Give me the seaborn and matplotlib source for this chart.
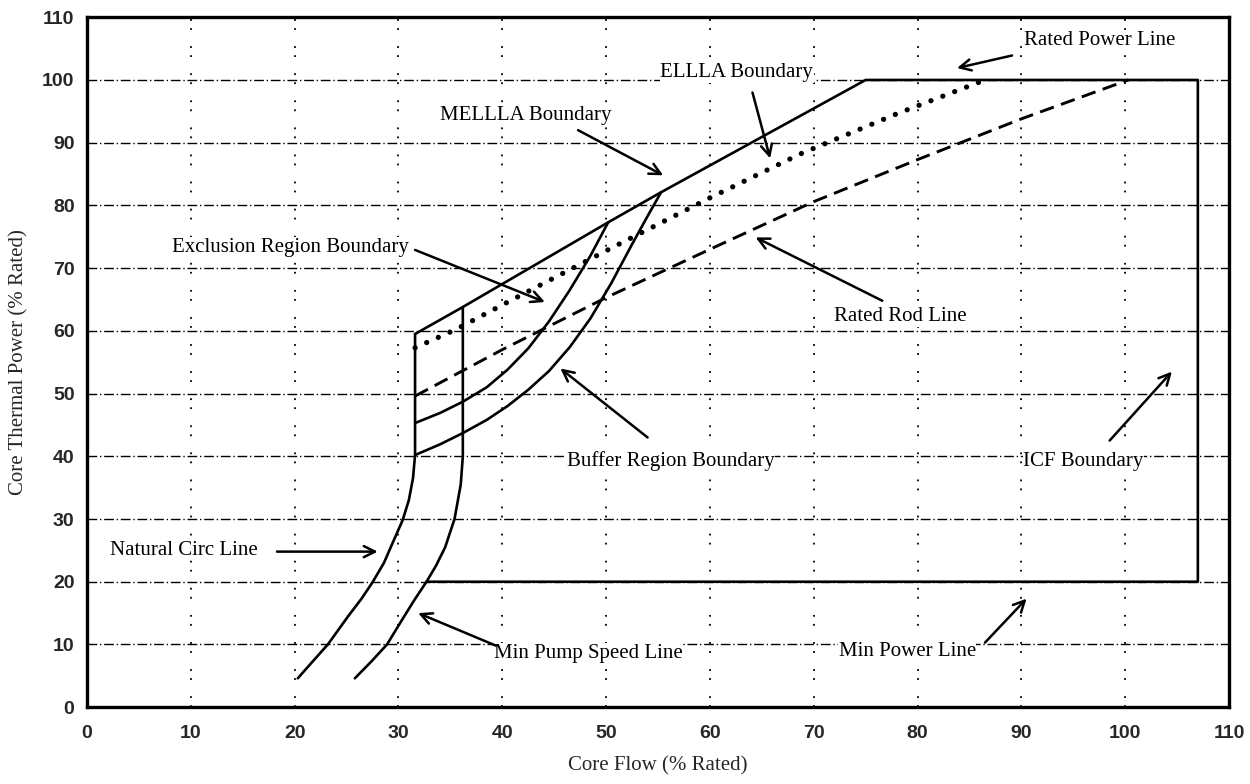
import matplotlib
matplotlib.use('Agg')
import matplotlib.pyplot as plt
import seaborn as sns

# boundary: MELLLA -> rated power line -> ICF -> min power line
boundary_x = [31.6, 36.2, 50.2, 55.3, 75.0, 107.0, 107.0, 32.7]
boundary_y = [59.5, 63.8, 77.3, 82.1, 100.0, 100.0, 20.0, 20.0]

natcirc_x = [31.6, 31.6, 31.4, 31.0, 30.4, 29.6, 28.6, 27.5, 26.4, 25.2, 24.2, 23.2, 21.8, 20.3]
natcirc_y = [59.5, 40.2, 36.5, 33.0, 29.8, 26.8, 23.0, 19.9, 17.2, 14.6, 12.3, 10.0, 7.4, 4.6]

minpump_x = [36.2, 36.2, 36.0, 35.4, 34.5, 33.6, 32.7, 31.5, 30.3, 28.9, 27.4, 25.8]
minpump_y = [63.8, 40.0, 35.5, 30.0, 25.5, 22.5, 20.0, 17.0, 13.8, 10.0, 7.3, 4.6]

ellla_x = [31.6, 35.5, 41.0, 50.5, 60.0, 68.7, 78.0, 86.5]
ellla_y = [57.3, 60.2, 65.0, 73.2, 81.2, 88.2, 94.6, 100.0]

rodline_x = [31.6, 40.0, 50.0, 60.0, 70.0, 80.0, 90.0, 100.3]
rodline_y = [49.6, 57.0, 65.3, 73.0, 80.6, 87.3, 93.8, 100.0]

exclusion_x = [31.6, 34.0, 36.2, 38.5, 40.5, 42.5, 44.5, 46.5, 48.5, 50.2]
exclusion_y = [45.3, 46.9, 48.7, 51.0, 53.8, 57.2, 61.5, 66.5, 72.0, 77.3]

buffer_x = [31.6, 34.0, 36.2, 38.5, 40.5, 42.5, 44.5, 46.5, 48.5, 50.5, 52.5, 54.0, 55.3]
buffer_y = [40.2, 41.9, 43.7, 45.8, 48.0, 50.6, 53.6, 57.4, 62.0, 67.6, 73.8, 78.3, 82.1]

ticks = list(range(0, 111, 10))

# label text, text centre, arrow start, arrow tip
labels = ['Rated Power Line', 'ELLLA Boundary', 'MELLLA Boundary',
          'Exclusion Region Boundary', 'Rated Rod Line', 'Buffer Region Boundary',
          'ICF Boundary', 'Natural Circ Line', 'Min Pump Speed Line', 'Min Power Line']
label_pos = [(97.5, 106.3), (62.6, 101.2), (42.3, 94.4), (19.6, 73.3), (78.3, 62.3),
             (56.2, 39.2), (96.0, 39.2), (9.3, 25.0), (48.3, 8.6), (79.0, 8.8)]
arrow_from = [(89.1, 103.9), (64.1, 98.0), (47.3, 92.0), (31.6, 72.9), (76.6, 64.8),
              (54.0, 43.0), (98.5, 42.5), (18.3, 24.8), (39.4, 9.8), (86.5, 10.3)]
arrow_to = [(83.8, 101.9), (65.8, 87.5), (55.5, 84.8), (44.1, 64.6), (64.4, 74.9),
            (45.6, 54.0), (104.5, 53.5), (28.0, 24.8), (31.9, 15.0), (90.5, 17.3)]

sns.set_theme(style='white')
serif = 'Liberation Serif'
sans = 'Liberation Sans'

fig = plt.figure(figsize=(12.5, 7.84), dpi=100)
ax = fig.add_axes([0.0696, 0.098, 0.9136, 0.880])

lw = 1.9
def draw(xs, ys, **kw):
    sns.lineplot(x=xs, y=ys, sort=False, estimator=None, ax=ax, color='black', **kw)

draw(boundary_x, boundary_y, linewidth=lw)
draw(natcirc_x, natcirc_y, linewidth=lw)
draw(minpump_x, minpump_y, linewidth=lw)
draw(exclusion_x, exclusion_y, linewidth=lw)
draw(buffer_x, buffer_y, linewidth=lw)
draw(ellla_x, ellla_y, linewidth=3.8, linestyle=(0, (0.01, 2.4)), dash_capstyle='round')
draw(rodline_x, rodline_y, linewidth=2.1, linestyle=(0, (5, 2.6)))

ax.set_xlim(0, 110)
ax.set_ylim(0, 110)
ax.set_xticks(ticks)
ax.set_yticks(ticks)

ax.yaxis.grid(True, color='black', linewidth=1.0, linestyle=(0, (7, 2, 1, 2)))
ax.xaxis.grid(True, color='black', linewidth=1.3, linestyle=(0, (1, 4, 1, 9)))
ax.set_axisbelow(True)

for s in ax.spines.values():
    s.set_color('black')
    s.set_linewidth(2.4)

ax.tick_params(direction='in', length=4, width=1.5, color='black', pad=13)
for t in ax.get_xticklabels() + ax.get_yticklabels():
    t.set_fontfamily(sans)
    t.set_fontweight('bold')
    t.set_fontsize(14)
ax.tick_params(axis='y', pad=9)

ax.set_xlabel('Core Flow (% Rated)', fontfamily=serif, fontsize=15, labelpad=10)
ax.set_ylabel('Core Thermal Power (% Rated)', fontfamily=serif, fontsize=15, labelpad=10)

for txt, pos, a0, a1 in zip(labels, label_pos, arrow_from, arrow_to):
    ax.text(pos[0], pos[1], txt, ha='center', va='center', fontfamily=serif, fontsize=15,
            color='black', bbox=dict(facecolor='white', edgecolor='none', pad=0.5), zorder=4)
    ax.annotate('', xy=a1, xytext=a0,
                arrowprops=dict(arrowstyle='->', color='black', lw=1.8, mutation_scale=20,
                                shrinkA=0, shrinkB=0), zorder=5)

fig.savefig('out.png', dpi=100)
